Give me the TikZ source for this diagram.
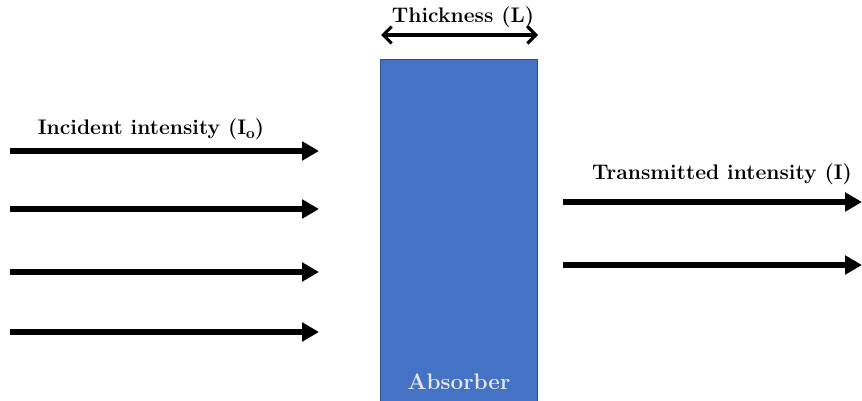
\documentclass[tikz,border=0pt]{standalone}
\usetikzlibrary{arrows.meta, positioning}
\definecolor{absblue}{HTML}{4472C4}
\definecolor{absedge}{HTML}{2F528F}
\definecolor{abstext}{HTML}{E7E6E6}

\begin{document}
\begin{tikzpicture}[
      x=0.025cm, y=-0.025cm,
      beam/.style={-{Triangle[length=12pt, width=13pt]}, line width=4.3pt},
      gauge/.style={{Straight Barb[length=6pt, width=12pt]}-{Straight Barb[length=6pt, width=12pt]}, line width=2.2pt},
      lbl/.style={font=\fontsize{15}{18}\selectfont\bfseries, inner sep=1pt},
      slab/.style={
        rectangle,
        fill=absblue,
        draw=absedge,
        line width=0.6pt,
        minimum width=3.925cm,
        minimum height=8.55cm,
        anchor=north west
      }
    ]
      \useasboundingbox (0,0) rectangle (862,401);

      \node[slab] (abs) at (380,59) {};
      \node[lbl, font=\fontsize{16}{19}\selectfont\bfseries, text=abstext] (abslbl) at ([yshift=0.5cm]abs.south) {Absorber};

      \coordinate (gl) at (381,35);
      \coordinate (gr) at (538,35);
      \draw[gauge] (gl) -- (gr);
      \node[lbl] (thick) at (463,17) {Thickness (L)};

      \foreach \y [count=\i] in {151,209,272,332} {
        \coordinate (in\i) at (10,\y);
        \coordinate (out\i) at (319,\y);
        \draw[beam] (in\i) -- (out\i);
      }
      \node[lbl] (inclbl) at (151,129) {Incident intensity (I\raisebox{-0.4ex}{\fontsize{11}{11}\selectfont o})};

      \foreach \y [count=\i] in {202,265} {
        \coordinate (tin\i) at (563,\y);
        \coordinate (tout\i) at (862,\y);
        \draw[beam] (tin\i) -- (tout\i);
      }
      \node[lbl] (trlbl) at (722,174) {Transmitted intensity (I)};
    \end{tikzpicture}
\end{document}
